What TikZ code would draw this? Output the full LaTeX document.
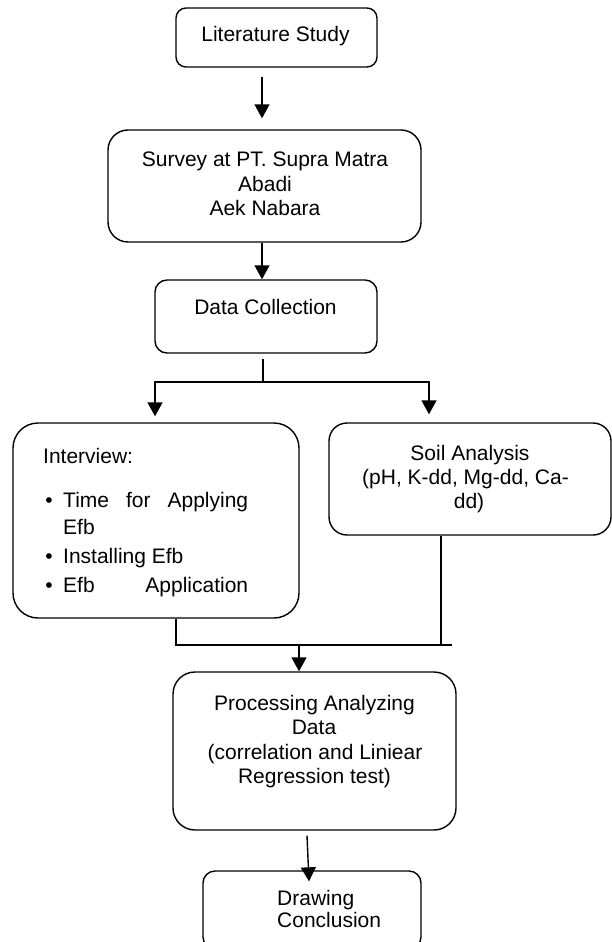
\documentclass[tikz,border=0pt]{standalone}
\usepackage{fontspec}
\setmainfont{Liberation Sans}
\usetikzlibrary{arrows.meta}
\begin{document}
\begin{tikzpicture}[x=1pt,y=-1pt,
  box/.style={draw,line width=1.4pt,rounded corners=#1,inner sep=0pt},
  txt/.style={inner sep=0pt,anchor=base,font=\fontsize{21}{24.5}\selectfont},
  txtl/.style={txt,anchor=base west},
  ln/.style={draw,line width=1.4pt},
  arr/.style={ln,-{Triangle[width=15pt,length=14pt]}}]
\clip (0,0) rectangle (612,942);
\fill[white] (0,0) rectangle (612,942);
% boxes
\node[box=10pt,minimum width=201pt,minimum height=59pt] (lit) at (276.5,37.5) {};
\node[box=20pt,minimum width=313pt,minimum height=112pt] (survey) at (264.5,186) {};
\node[box=12pt,minimum width=222pt,minimum height=73pt] (data) at (266,316.5) {};
\node[box=25pt,minimum width=286pt,minimum height=195pt] (intv) at (156,520.5) {};
\node[box=18pt,minimum width=282pt,minimum height=112pt] (soil) at (470,479) {};
\node[box=22pt,minimum width=283pt,minimum height=158pt] (proc) at (314.5,751) {};
\node[box=12pt,minimum width=218pt,minimum height=78pt] (concl) at (312,910) {};
% texts
\node[txt] (litT) at (275.5,41.5) {Literature Study};
\node[txt] (sv1) at (265,166) {Survey at PT. Supra Matra};
\node[txt] (sv2) at (265,191) {Abadi};
\node[txt] (sv3) at (265,215) {Aek Nabara};
\node[txt] (dc) at (265.5,314) {Data Collection};
\node[txtl] (iv0) at (43,463) {Interview:};
\node[txt] (b1) at (49,507) {\textbullet};
\node[txtl] (iv1) at (63,507) {\makebox[185pt][s]{Time for Applying}};
\node[txtl] (iv2) at (63,534) {Efb};
\node[txt] (b2) at (49,563) {\textbullet};
\node[txtl] (iv3) at (63,563) {Installing Efb};
\node[txt] (b3) at (49,592) {\textbullet};
\node[txtl] (iv4) at (63,592) {\makebox[185pt][s]{Efb Application}};
\node[txt] (so1) at (470,460) {Soil Analysis};
\node[txt] (so2) at (465.5,484) {(pH, K-dd, Mg-dd, Ca-};
\node[txt] (so3) at (469,508) {dd)};
\node[txt] (pr1) at (314.5,710) {Processing Analyzing};
\node[txt] (pr2) at (314,734) {Data};
\node[txt] (pr3) at (315,759) {(correlation and Liniear};
\node[txt] (pr4) at (314.5,783) {Regression test)};
\node[txtl] (cc1) at (277,905) {Drawing};
\node[txtl] (cc2) at (277,927) {Conclusion};
% connectors
\draw[arr] ([xshift=-14.5pt,yshift=-9pt]lit.south) -- ([xshift=-2.5pt,yshift=11pt]survey.north);
\draw[arr] ([xshift=-2.5pt]survey.south) -- ([xshift=-4pt]data.north);
\coordinate (split) at (263,382);
\draw[ln] ([xshift=-3pt,yshift=-5pt]data.south) -- (split);
\draw[arr] (split) -| ([xshift=-1pt,yshift=6pt]intv.north);
\draw[arr] (split) -| ([xshift=-41pt,yshift=8pt]soil.north);
\coordinate (join) at (299,645);
\coordinate (joinR) at (452,645);
\draw[ln] ([xshift=20pt]intv.south) |- (joinR);
\draw[ln] ([xshift=-29pt]soil.south) -- ([xshift=-29pt]soil.south |- joinR);
\draw[arr] (join) -- ([xshift=-15.5pt]proc.north);
\draw[arr] ([xshift=-7.5pt,yshift=-5pt]proc.south) -- ([xshift=-3pt,yshift=-11pt]concl.north);
\end{tikzpicture}
\end{document}
